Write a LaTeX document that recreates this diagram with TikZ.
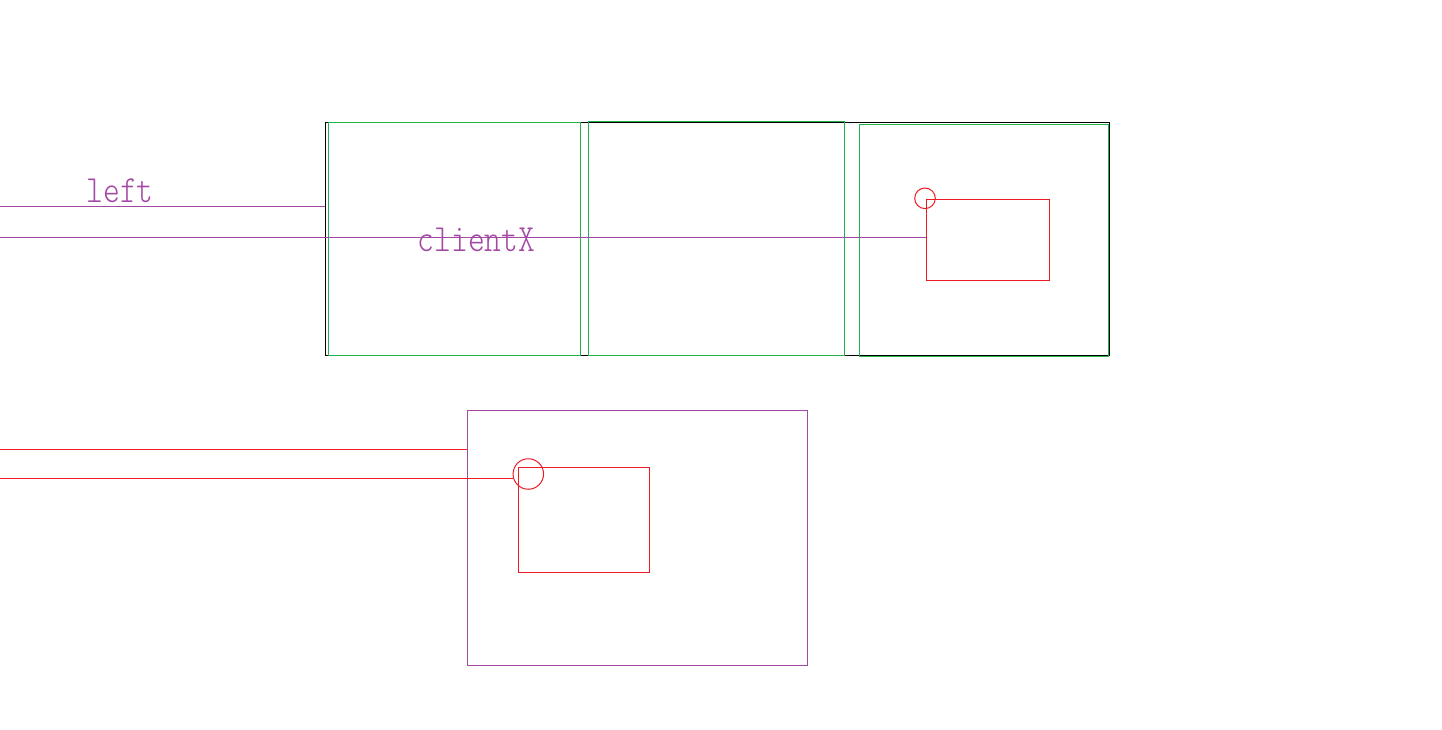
\documentclass[tikz,border=0pt]{standalone}
\usepackage{graphicx}
\definecolor{pp}{HTML}{A349A4}
\definecolor{gg}{HTML}{22B14C}
\definecolor{rr}{HTML}{ED1C24}
\begin{document}
\begin{tikzpicture}[x=1pt,y=-1pt,
  box/.style={rectangle,draw,inner sep=0pt,outer sep=0pt,anchor=north west,line width=1pt},
  ln/.style={line width=1pt},
  lbl/.style={text=pp,inner sep=0pt,anchor=base,font=\ttfamily\fontseries{l}\fontsize{32}{32}\selectfont}]
\useasboundingbox (0,0) rectangle (1442,730);
% top row
\node[box,black,minimum width=784pt,minimum height=233pt] (outer) at (325.3,122.3) {};
\node[box,gg,minimum width=252pt,minimum height=233pt] (g1) at (328.3,122.3) {};
\node[box,gg,minimum width=256pt,minimum height=233.6pt] (g2) at (588.3,121.7) {};
\node[box,gg,minimum width=249pt,minimum height=231.7pt] (g3) at (859.3,124.3) {};
\node[box,rr,minimum width=123pt,minimum height=81pt] (r1) at (926.3,199.3) {};
\node[circle,draw=rr,line width=1pt,inner sep=0pt,minimum size=20.6pt] (c1) at (925,198.3) {};
\coordinate (a1) at (0,206.7);
\coordinate (a2) at (0,237.3);
\draw[ln,pp] (a1) -- (outer.west |- a1);
\draw[ln,pp] (a2) -- (r1.west |- a2);
\node[lbl] (tleft) at (120,202.3) {\scalebox{1}[1.2]{left}};
\node[lbl] (tclient) at (476.5,251.7) {\scalebox{1}[1.2]{clientX}};
% bottom
\node[box,pp,minimum width=340pt,minimum height=255pt] (pbox) at (467.3,410.3) {};
\node[box,rr,minimum width=131pt,minimum height=105pt] (r2) at (518.3,467.3) {};
\node[circle,draw=rr,line width=1pt,inner sep=0pt,minimum size=30.5pt] (c2) at (528.3,474) {};
\coordinate (b1) at (0,449.3);
\coordinate (b2) at (0,478.3);
\draw[ln,rr] (b1) -- (pbox.west |- b1);
\draw[ln,rr] (b2) -- (c2.west |- b2);
\end{tikzpicture}
\end{document}
